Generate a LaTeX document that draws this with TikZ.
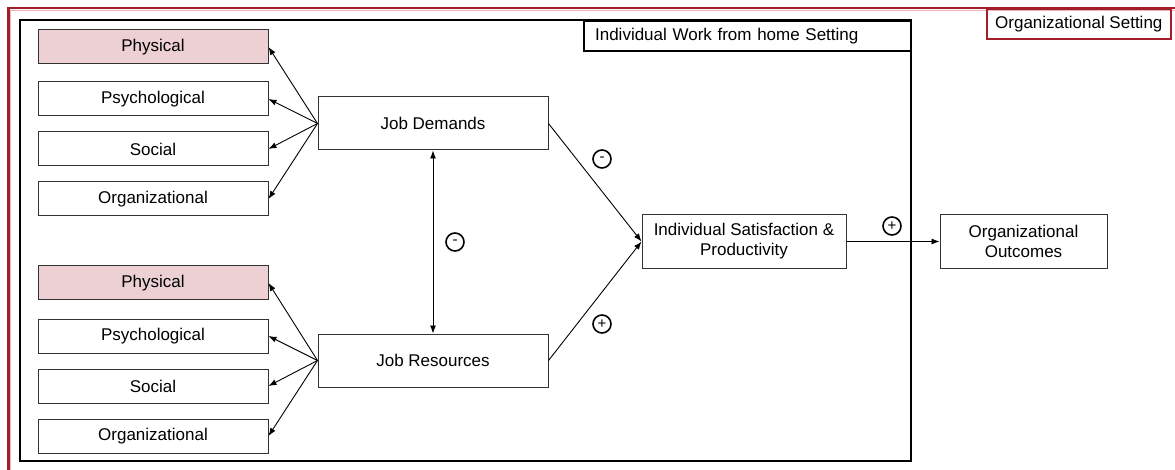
\documentclass[tikz,border=0pt]{standalone}
\usepackage{fontspec}
\setmainfont{Liberation Sans}
\usetikzlibrary{positioning, arrows.meta}
\definecolor{orgred}{RGB}{163,30,42}
\definecolor{orgshade}{RGB}{232,180,186}
\definecolor{physpink}{RGB}{236,208,212}

\begin{document}
\begin{tikzpicture}[x=1pt, y=-1pt,
    every node/.style={font=\fontsize{17}{20}\selectfont},
    leafbox/.style={draw=black!80, line width=1pt, minimum width=230pt, minimum height=34pt, inner sep=0pt},
    physbox/.style={leafbox, fill=physpink},
    mainbox/.style={draw=black!80, line width=1pt, minimum height=54pt, inner sep=0pt, align=center},
    sign/.style={circle, draw, line width=1.6pt, minimum size=18pt, inner sep=0pt, font=\fontsize{15}{15}\selectfont},
    arr/.style={line width=0.9pt, -{Latex[length=8pt, width=6pt]}},
    dblarr/.style={line width=0.9pt, {Latex[length=8pt, width=6pt]}-{Latex[length=8pt, width=6pt]}}]
    \useasboundingbox (0,0) rectangle (1175,470);

    % Organizational setting frame
    \draw[orgshade, line width=1pt] (10.8,470) -- (10.8,10.3) -- (1175,10.3);
    \draw[orgred, line width=2.2pt] (8.5,470) -- (8.5,8) -- (1175,8);
    \node[draw=orgred, line width=1.6pt, minimum width=184pt, minimum height=30pt, inner sep=0pt, anchor=north west] (orgset) at (986,8) {Organizational Setting};

    % Individual work from home frame
    \draw[line width=2.2pt] (20,20) rectangle (911,461);
    \node[draw, line width=2.2pt, fill=white, text width=305pt, inner xsep=11pt, minimum height=30pt, align=left, anchor=north west] (wfh) at (583,20) {Individual Work from home Setting};

    % Demands side
    \node[physbox] (dphys) at (153,47) {Physical};
    \node[leafbox] (dpsy) at (153,99) {Psychological};
    \node[leafbox] (dsoc) at (153,149) {Social};
    \node[leafbox] (dorg) at (153,199) {Organizational};

    % Resources side
    \node[physbox] (rphys) at (153,283) {Physical};
    \node[leafbox] (rpsy) at (153,336) {Psychological};
    \node[leafbox] (rsoc) at (153,386) {Social};
    \node[leafbox] (rorg) at (153,436) {Organizational};

    \node[mainbox, minimum width=230pt, minimum height=53pt] (jd) at (433,123.5) {Job Demands};
    \node[mainbox, minimum width=230pt, minimum height=53pt] (jr) at (433,360.5) {Job Resources};
    \node[mainbox, minimum width=204pt] (isp) at (744,241.5) {Individual Satisfaction \&\\Productivity};
    \node[mainbox, minimum width=167pt] (oo) at (1023.5,241.5) {Organizational\\Outcomes};

    \draw[arr] (jd.west) -- (dphys.east);
    \draw[arr] (jd.west) -- (dpsy.east);
    \draw[arr] (jd.west) -- (dsoc.east);
    \draw[arr] (jd.west) -- (dorg.east);

    \draw[arr] (jr.west) -- (rphys.east);
    \draw[arr] (jr.west) -- (rpsy.east);
    \draw[arr] (jr.west) -- (rsoc.east);
    \draw[arr] (jr.west) -- (rorg.east);

    \draw[dblarr] (jd) -- (jr);
    \draw[arr] (jd.east) -- (isp.west);
    \draw[arr] (jr.east) -- (isp.west);
    \draw[arr] (isp) -- (oo);

    % signs
    \node[sign] (smid) at (455,242) {-};
    \node[sign] (sdem) at (602,159) {-};
    \node[sign] (sres) at (602,324) {+};
    \node[sign] (sout) at (892,226) {+};
\end{tikzpicture}
\end{document}
